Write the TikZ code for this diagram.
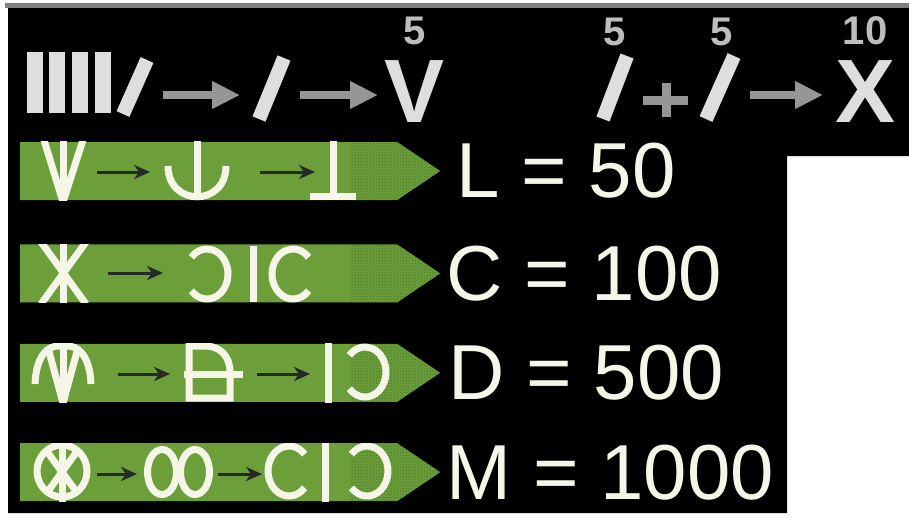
\documentclass[tikz,border=0pt]{standalone}
\usepackage{fontspec}
\setmainfont{Liberation Sans}
\usetikzlibrary{arrows.meta,positioning,shapes.symbols,patterns}

\definecolor{leaf}{RGB}{108,158,58}
\definecolor{leafdark}{RGB}{62,112,40}
\definecolor{chalk}{RGB}{246,246,232}
\definecolor{ink}{RGB}{38,42,38}
\definecolor{pale}{RGB}{222,222,222}
\definecolor{steel}{RGB}{150,150,150}
\definecolor{rim}{RGB}{128,128,128}

\begin{document}
\begin{tikzpicture}[
  x=1pt, y=-1pt,
  banner/.style={signal, signal to=east, signal pointer angle=68, fill=leaf,
                 minimum width=420pt, minimum height=58pt, inner sep=0pt,
                 path picture={\fill[pattern=crosshatch dots, pattern color=leafdark]
                   ([xshift=-90pt]path picture bounding box.north east)
                   rectangle (path picture bounding box.south east);}},
  glyph/.style={draw=chalk, line width=7pt},
  val/.style={text=chalk, font=\fontsize{78}{78}\selectfont, inner sep=0pt},
  bigl/.style={text=pale, font=\bfseries\fontsize{90}{90}\selectfont, inner sep=0pt},
  num/.style={text=pale!85!black, font=\bfseries\fontsize{40}{40}\selectfont, inner sep=0pt},
  bar/.style={draw=pale, line width=14pt},
  tarrow/.style={draw=steel, line width=8pt, -{Triangle[length=28pt,width=26pt]}},
  sarrow/.style={draw=ink, line width=3pt, -{Stealth[length=16pt,width=14pt,inset=5pt]}}
]
\useasboundingbox (0,0) rectangle (909,517);
\fill[white] (0,0) rectangle (909,517);
\fill[rim] (5,3) rectangle (909,8);
\fill[black] (8,8) rectangle (909,156) (8,155) rectangle (787,513);

% top row: IIII/ -> / -> V   and  / + / -> X
\foreach \bx in {27,49,72,95}
  \fill[pale] (\bx,52) rectangle ++(16,61);
\draw[bar] (123,114) -- (147,60);
\draw[bar] (259,119) -- (284,58);
\draw[bar] (603,119) -- (627,56);
\draw[bar] (706,119) -- (734,56);
\node[bigl, anchor=base] (vv) at (415,122) {V};
\node[bigl, anchor=base] (xx) at (865,122) {X};
\node[num, above=15pt of vv] (n5) {5};
\node[num, above=15pt of xx] (n10) {10};
\node[num, anchor=base] (n5b) at (615,45) {5};
\node[num, anchor=base] (n5c) at (722,45) {5};
\draw[draw=steel, line width=9pt] (643,100) -- (688,100) (666,83) -- (666,117);

\coordinate (t1a) at (163,95); \coordinate (t1b) at (240,95);
\coordinate (t2a) at (300,95); \coordinate (t2b) at (378,95);
\coordinate (t3a) at (750,95); \coordinate (t3b) at (823,95);
\draw[tarrow] (t1a) -- (t1b);
\draw[tarrow] (t2a) -- (t2b);
\draw[tarrow] (t3a) -- (t3b);

% banners
\node[banner, anchor=west] (bL) at (20,171) {};
\node[banner, below=44pt of bL] (bC) {};
\node[banner, below=41pt of bC] (bD) {};
\node[banner, below=41pt of bD] (bM) {};

\node[val, right=16pt of bL] (vL) {L = 50};
\node[val, right=6pt of bC] (vC) {C = 100};
\node[val, right=8pt of bD] (vD) {D = 500};
\node[val, right=6pt of bM] (vM) {M = 1000};

% L
\begin{scope}
  \clip (bL.north -| bL.west) rectangle (bL.south -| bL.east);
  \draw[glyph] (44,140) -- (63,202) -- (83,140);
  \draw[glyph] (63,140) -- (63,202);
  \draw[glyph] (197,140) -- (197,198);
  \draw[glyph] (168,166) .. controls (168,207) and (226,207) .. (226,166);
  \draw[glyph] (333,140) -- (333,196);
  \draw[glyph] (310,196) -- (356,196);
\end{scope}
\coordinate (l1a) at (97,172); \coordinate (l1b) at (150,172);
\coordinate (l2a) at (260,172); \coordinate (l2b) at (315,172);
\draw[sarrow] (l1a) -- (l1b);
\draw[sarrow] (l2a) -- (l2b);

% C
\begin{scope}
  \clip (bC.north -| bC.west) rectangle (bC.south -| bC.east);
  \draw[glyph] (41,242) -- (86,304);
  \draw[glyph] (86,242) -- (41,304);
  \draw[glyph] (63,242) -- (63,304);
  \draw[glyph] ([shift={(138:21 and 25)}]207,274) arc[start angle=138, end angle=-138, x radius=21, y radius=25];
  \draw[glyph] (253,246) -- (253,302);
  \draw[glyph] ([shift={(42:21 and 25)}]293,274) arc[start angle=42, end angle=318, x radius=21, y radius=25];
\end{scope}
\coordinate (c1a) at (108,273); \coordinate (c1b) at (163,273);
\draw[sarrow] (c1a) -- (c1b);

% D
\begin{scope}
  \clip (bD.north -| bD.west) rectangle (bD.south -| bD.east);
  \draw[glyph] (63,341) -- (63,403);
  \draw[glyph] (48,348) -- (63,403) -- (78,348);
  \draw[glyph] (35,384) .. controls (36,356) and (48,345) .. (60,346);
  \draw[glyph] (91,384) .. controls (90,356) and (78,345) .. (66,346);
  \draw[glyph] (205,346) -- (189,346) -- (189,398) -- (230,398) -- (230,372)
               .. controls (230,356) and (220,346) .. (205,346) -- cycle;
  \draw[glyph] (184,374) -- (243,374);
  \draw[glyph] (328,341) -- (328,403);
  \draw[glyph] ([shift={(138:21 and 25)}]365,372) arc[start angle=138, end angle=-138, x radius=21, y radius=25];
\end{scope}
\coordinate (d1a) at (118,374); \coordinate (d1b) at (170,374);
\coordinate (d2a) at (257,374); \coordinate (d2b) at (310,374);
\draw[sarrow] (d1a) -- (d1b);
\draw[sarrow] (d2a) -- (d2b);

% M
\begin{scope}
  \clip (bM.north -| bM.west) rectangle (bM.south -| bM.east);
  \draw[glyph] (62,471) ellipse[x radius=25, y radius=26];
  \draw[glyph] (62,440) -- (62,502);
  \draw[glyph] (46,450) -- (78,494) (78,450) -- (46,494);
  \draw[glyph] (162,472) ellipse[x radius=14.5, y radius=22.5];
  \draw[glyph] (195,472) ellipse[x radius=14.5, y radius=22.5];
  \draw[glyph] ([shift={(42:21 and 25)}]289,471) arc[start angle=42, end angle=318, x radius=21, y radius=25];
  \draw[glyph] (325,440) -- (325,502);
  \draw[glyph] ([shift={(138:21 and 25)}]367,471) arc[start angle=138, end angle=-138, x radius=21, y radius=25];
\end{scope}
\coordinate (m1a) at (97,474); \coordinate (m1b) at (137,474);
\coordinate (m2a) at (218,474); \coordinate (m2b) at (262,474);
\draw[sarrow] (m1a) -- (m1b);
\draw[sarrow] (m2a) -- (m2b);
\end{tikzpicture}
\end{document}
